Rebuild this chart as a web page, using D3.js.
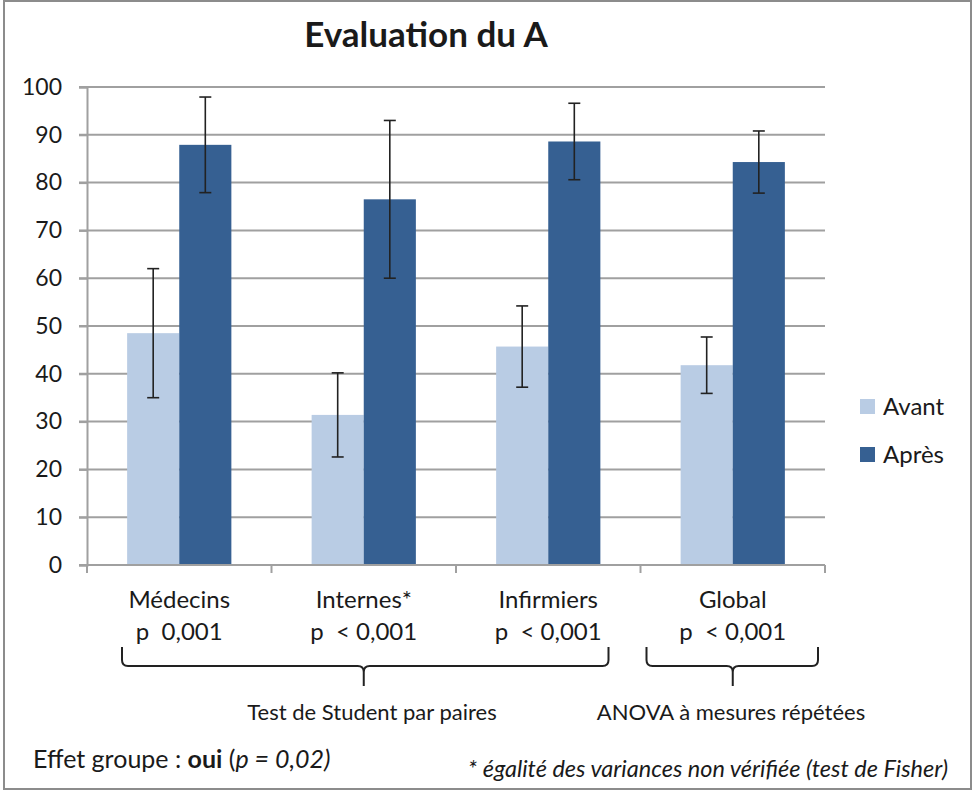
<!DOCTYPE html>
<html>
<head>
<meta charset="utf-8">
<script src="https://cdn.jsdelivr.net/npm/d3@7"></script>
<style>
  body { margin: 0; background: #fff; }
  svg { font-family: Lato, "Open Sans", sans-serif; }
</style>
</head>
<body>
<svg id="chart"></svg>
<script>
const WIDTH = 973;
const HEIGHT = 791;

const categories = ['Médecins', 'Internes*', 'Infirmiers', 'Global'];
const pLabels = ['p  0,001', 'p  < 0,001', 'p  < 0,001', 'p  < 0,001'];
const series = ['Avant', 'Après'];
const avant = [48.5, 31.4, 45.7, 41.8];
const apres = [87.9, 76.5, 88.6, 84.3];
const avantErr = [13.5, 8.8, 8.5, 5.9];
const apresErr = [10.0, 16.5, 8.0, 6.5];
const yTicks = [0, 10, 20, 30, 40, 50, 60, 70, 80, 90, 100];

const COLORS = { 'Avant': '#b9cce4', 'Après': '#366092' };
const GRID = '#a0a0a0';

const svg = d3.select('#chart')
    .attr('width', WIDTH)
    .attr('height', HEIGHT);

// outer frame
svg.append('rect')
    .attr('x', 4).attr('y', 1)
    .attr('width', WIDTH - 6).attr('height', HEIGHT - 3)
    .attr('fill', '#fff')
    .attr('stroke', '#8c8c8c')
    .attr('stroke-width', 2);

const plot = { left: 87, right: 825, top: 87, bottom: 565 };

const x = d3.scaleBand()
    .domain(categories)
    .range([plot.left, plot.right])
    .paddingInner(0)
    .paddingOuter(0);

const xSub = d3.scaleBand()
    .domain(series)
    .range([0, x.bandwidth()])
    .paddingInner(0)
    .paddingOuter(0.77);

const y = d3.scaleLinear()
    .domain([0, 100])
    .range([plot.bottom, plot.top]);

// title
svg.append('text')
    .attr('x', 426).attr('y', 47)
    .attr('text-anchor', 'middle')
    .attr('font-size', 35)
    .attr('font-weight', 'bold')
    .attr('fill', '#1a1a1a')
    .text('Evaluation du A');

// gridlines
svg.append('g')
    .selectAll('line')
    .data(yTicks)
    .join('line')
    .attr('x1', plot.left - 8)
    .attr('x2', plot.right)
    .attr('y1', d => y(d))
    .attr('y2', d => y(d))
    .attr('stroke', GRID)
    .attr('stroke-width', 2);

// y axis
const yAxis = svg.append('g')
    .attr('transform', `translate(${plot.left},0)`)
    .call(d3.axisLeft(y).tickValues(yTicks).tickSize(8).tickPadding(17));
yAxis.select('.domain').attr('stroke', GRID).attr('stroke-width', 2);
yAxis.selectAll('.tick line').attr('stroke', GRID).attr('stroke-width', 2);
yAxis.selectAll('.tick text')
    .attr('font-size', 23)
    .attr('font-family', 'Lato, sans-serif')
    .attr('fill', '#1a1a1a');

// bars
const rows = categories.map((c, i) => ({
    cat: c,
    vals: [
        { key: 'Avant', v: avant[i], e: avantErr[i] },
        { key: 'Après', v: apres[i], e: apresErr[i] }
    ]
}));

const groups = svg.append('g')
    .selectAll('g')
    .data(rows)
    .join('g')
    .attr('transform', d => `translate(${x(d.cat)},0)`);

groups.selectAll('rect')
    .data(d => d.vals)
    .join('rect')
    .attr('x', d => xSub(d.key))
    .attr('y', d => y(d.v))
    .attr('width', xSub.bandwidth())
    .attr('height', d => y(0) - y(d.v))
    .attr('fill', d => COLORS[d.key]);

// error bars
const errs = groups.selectAll('g.err')
    .data(d => d.vals)
    .join('g')
    .attr('class', 'err')
    .attr('stroke', '#222')
    .attr('stroke-width', 1.6);

errs.append('line')
    .attr('x1', d => xSub(d.key) + xSub.bandwidth() / 2)
    .attr('x2', d => xSub(d.key) + xSub.bandwidth() / 2)
    .attr('y1', d => y(d.v + d.e))
    .attr('y2', d => y(d.v - d.e));

[1, -1].forEach(s => {
    errs.append('line')
        .attr('x1', d => xSub(d.key) + xSub.bandwidth() / 2 - 6)
        .attr('x2', d => xSub(d.key) + xSub.bandwidth() / 2 + 6)
        .attr('y1', d => y(d.v + s * d.e))
        .attr('y2', d => y(d.v + s * d.e));
});

// x axis
const xAxis = svg.append('g')
    .attr('transform', `translate(0,${plot.bottom})`);
xAxis.append('line')
    .attr('x1', plot.left).attr('x2', plot.right)
    .attr('stroke', GRID).attr('stroke-width', 2);
xAxis.selectAll('line.tick')
    .data(categories.concat(['end']))
    .join('line')
    .attr('class', 'tick')
    .attr('x1', (d, i) => plot.left + i * x.bandwidth())
    .attr('x2', (d, i) => plot.left + i * x.bandwidth())
    .attr('y1', 0).attr('y2', 8)
    .attr('stroke', GRID).attr('stroke-width', 2);

const catLabels = svg.append('g')
    .attr('font-size', 24)
    .attr('fill', '#1a1a1a')
    .attr('text-anchor', 'middle');
catLabels.selectAll('text.cat')
    .data(categories)
    .join('text')
    .attr('class', 'cat')
    .attr('x', d => x(d) + x.bandwidth() / 2)
    .attr('y', 608)
    .text(d => d);
catLabels.selectAll('text.p')
    .data(categories)
    .join('text')
    .attr('class', 'p')
    .attr('x', d => x(d) + x.bandwidth() / 2)
    .attr('y', 640)
    .attr('xml:space', 'preserve')
    .text((d, i) => pLabels[i]);

// braces
function brace(x0, x1, xc) {
    const top = 647, mid = 666, tip = 686, r = 6;
    return `M${x0},${top} V${mid - r} Q${x0},${mid} ${x0 + r},${mid} H${xc - r} Q${xc},${mid} ${xc},${mid + r} V${tip}` +
        ` M${xc},${mid + r} Q${xc},${mid} ${xc + r},${mid} H${x1 - r} Q${x1},${mid} ${x1},${mid - r} V${top}`;
}
const braceSpecs = [
    { from: 'Médecins', dx0: 35, to: 'Infirmiers', dx1: -32, center: 'Internes*', label: 'Test de Student par paires', lx: 372 },
    { from: 'Global', dx0: 6, to: 'Global', dx1: -7, center: 'Global', label: 'ANOVA à mesures répétées', lx: 731 }
];
braceSpecs.forEach(b => {
    const x0 = x(b.from) + b.dx0;
    const x1 = x(b.to) + x.bandwidth() + b.dx1;
    const xc = x(b.center) + x.bandwidth() / 2;
    svg.append('path')
        .attr('d', brace(x0, x1, xc))
        .attr('fill', 'none')
        .attr('stroke', '#222')
        .attr('stroke-width', 2);
    svg.append('text')
        .attr('x', b.lx).attr('y', 720)
        .attr('text-anchor', 'middle')
        .attr('font-size', 22)
        .attr('fill', '#1a1a1a')
        .text(b.label);
});

// legend
const legend = svg.append('g')
    .attr('transform', 'translate(860,399)');
legend.selectAll('g')
    .data(series)
    .join('g')
    .attr('transform', (d, i) => `translate(0,${i * 48})`)
    .call(g => g.append('rect')
        .attr('width', 15).attr('height', 15)
        .attr('fill', d => COLORS[d]))
    .call(g => g.append('text')
        .attr('x', 23).attr('y', 16)
        .attr('font-size', 24)
        .attr('fill', '#1a1a1a')
        .text(d => d));

// footnotes
const foot1 = svg.append('text')
    .attr('x', 33).attr('y', 768)
    .attr('font-size', 25)
    .attr('fill', '#1a1a1a');
foot1.append('tspan').text('Effet groupe : ');
foot1.append('tspan').attr('font-weight', 'bold').text('oui');
foot1.append('tspan').text(' (');
foot1.append('tspan').attr('font-style', 'italic').text('p = 0,02)');

svg.append('text')
    .attr('x', 948).attr('y', 777)
    .attr('text-anchor', 'end')
    .attr('font-size', 23.5)
    .attr('font-style', 'italic')
    .attr('fill', '#1a1a1a')
    .text('* égalité des variances non vérifiée (test de Fisher)');
</script>
</body>
</html>
